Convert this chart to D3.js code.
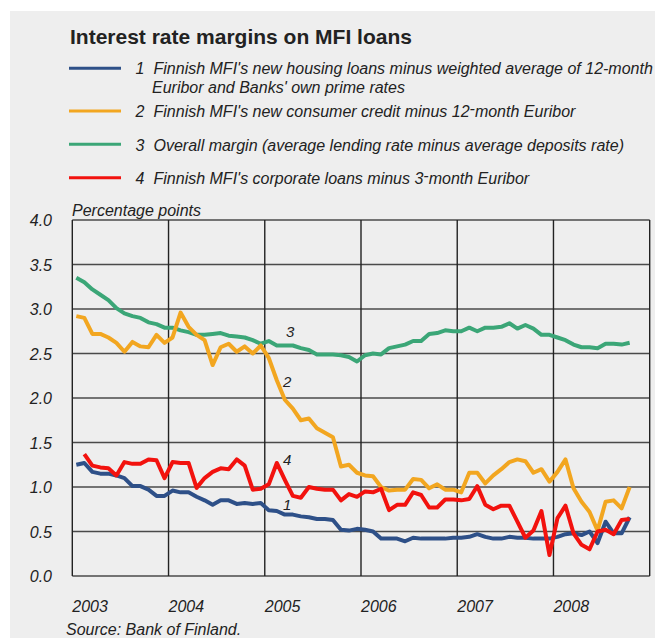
<!DOCTYPE html>
<html><head><meta charset="utf-8">
<script src="https://cdn.jsdelivr.net/npm/d3@7"></script>
<style>
html,body{margin:0;padding:0;background:#fff;}
svg{display:block;}
</style></head>
<body>
<script>
// ---- data ----
const title = "Interest rate margins on MFI loans";
const yLabel = "Percentage points";
const source = "Source: Bank of Finland.";
const startYear = 2003, startMonth = 0; // monthly observations from Jan 2003
const yearTicks = [2003, 2004, 2005, 2006, 2007, 2008];
const yTicks = [0, 0.5, 1, 1.5, 2, 2.5, 3, 3.5, 4];

// "^" marks a raised hyphen as printed in the original
const seriesNames = [
  ["1", "Finnish MFI's new housing loans minus weighted average of 12-month", "Euribor and Banks' own prime rates"],
  ["2", "Finnish MFI's new consumer credit minus 12^month Euribor"],
  ["3", "Overall margin (average lending rate minus average deposits rate)"],
  ["4", "Finnish MFI's corporate loans minus 3^month Euribor"]
];

const housing = [1.25,1.27,1.17,1.15,1.15,1.13,1.10,1.01,1.01,0.97,0.90,0.90,
  0.96,0.94,0.94,0.89,0.85,0.80,0.85,0.85,0.81,0.82,0.81,0.82,
  0.74,0.73,0.69,0.69,0.67,0.66,0.64,0.64,0.63,0.52,0.51,0.53,
  0.52,0.50,0.42,0.42,0.42,0.39,0.43,0.42,0.42,0.42,0.42,0.43,
  0.43,0.44,0.47,0.44,0.42,0.42,0.44,0.43,0.43,0.42,0.42,0.42,
  0.44,0.47,0.48,0.46,0.50,0.37,0.61,0.48,0.48,0.66];

const consumer = [2.92,2.90,2.72,2.72,2.68,2.62,2.52,2.63,2.58,2.57,2.71,2.62,
  2.68,2.96,2.80,2.71,2.65,2.37,2.57,2.61,2.52,2.58,2.50,2.59,
  2.45,2.20,1.98,1.88,1.75,1.77,1.66,1.61,1.56,1.23,1.25,1.16,
  1.13,1.12,1.00,0.96,0.97,0.97,1.09,1.08,0.985,1.03,0.97,0.97,
  0.94,1.16,1.16,1.04,1.13,1.20,1.28,1.31,1.29,1.16,1.20,1.06,
  1.17,1.31,0.985,0.835,0.72,0.51,0.835,0.85,0.76,1.00];

const overall = [3.35,3.30,3.22,3.16,3.10,3.01,2.95,2.92,2.90,2.85,2.83,2.79,
  2.79,2.76,2.74,2.71,2.71,2.72,2.73,2.70,2.69,2.68,2.65,2.61,
  2.64,2.59,2.59,2.59,2.56,2.54,2.49,2.49,2.49,2.48,2.46,2.41,
  2.48,2.50,2.49,2.56,2.58,2.60,2.64,2.64,2.72,2.73,2.76,2.75,
  2.75,2.79,2.75,2.79,2.79,2.80,2.84,2.78,2.82,2.78,2.71,2.71,
  2.68,2.65,2.60,2.57,2.57,2.56,2.61,2.61,2.60,2.62];

const corporate = [null,1.37,1.24,1.22,1.21,1.13,1.28,1.26,1.26,1.31,1.30,1.10,
  1.28,1.27,1.27,0.99,1.10,1.17,1.21,1.20,1.31,1.24,0.97,0.98,
  1.03,1.27,1.08,0.90,0.88,1.00,0.98,0.97,0.97,0.85,0.92,0.89,
  0.95,0.94,0.98,0.74,0.80,0.80,0.94,0.91,0.77,0.77,0.86,0.86,
  0.85,0.865,1.01,0.80,0.75,0.79,0.79,0.61,0.43,0.51,0.73,0.235,
  0.65,0.79,0.48,0.35,0.30,0.50,0.52,0.47,0.63,0.64];

const colors = ["#2e5088", "#f2a620", "#3ba677", "#f2120e"];
// line labels: [label, year position, value]
const lineLabels = [["1", 2005.19, 0.74], ["2", 2005.19, 2.12], ["3", 2005.22, 2.69], ["4", 2005.19, 1.25]];

// ---- drawing ----
const W = 655, H = 638;
const svg = d3.select("body").append("svg").attr("width", W).attr("height", H);
svg.append("rect").attr("x", 10).attr("y", 11).attr("width", W - 10).attr("height", H - 11).attr("fill", "#eeeeee");

const plot = {left: 72.3, right: 649.7, top: 220, bottom: 576};
const x = d3.scaleLinear().domain([2003, 2009]).range([plot.left, plot.right]);
const y = d3.scaleLinear().domain([0, 4]).range([plot.bottom, plot.top]);
const monthPos = i => startYear + (startMonth + i + 0.5) / 12;

const sans = "'Liberation Sans',Arial,sans-serif";
const ink = "#222";

svg.append("text").attr("x", 70).attr("y", 43.5).text(title)
  .attr("font-family", sans).attr("font-weight", "bold").attr("font-size", 21).attr("fill", ink);

function richText(sel, str) {
  const parts = str.split("^");
  parts.forEach((p, i) => {
    if (i > 0) sel.append("tspan").attr("dy", -3).text("-");
    sel.append("tspan").attr("dy", i > 0 ? 3 : 0).text(p);
  });
}

// legend
const legY = [68.3, 111, 144.3, 177.7];
const legBase = [74, 117.3, 151, 184];
seriesNames.forEach((s, k) => {
  svg.append("line").attr("x1", 69).attr("x2", 121).attr("y1", legY[k]).attr("y2", legY[k])
    .attr("stroke", colors[k]).attr("stroke-width", 3);
  svg.append("text").attr("x", 144.5).attr("y", legBase[k]).attr("text-anchor", "end").text(s[0])
    .attr("font-family", sans).attr("font-style", "italic").attr("font-size", 16).attr("fill", ink);
  const t = svg.append("text").attr("x", 153.5).attr("y", legBase[k])
    .attr("font-family", sans).attr("font-style", "italic").attr("font-size", 16).attr("fill", ink);
  richText(t, s[1]);
  if (s[2]) svg.append("text").attr("x", 152).attr("y", legBase[k] + 18.5).text(s[2])
    .attr("font-family", sans).attr("font-style", "italic").attr("font-size", 16).attr("fill", ink);
});

svg.append("text").attr("x", 72).attr("y", 216).text(yLabel)
  .attr("font-family", sans).attr("font-style", "italic").attr("font-size", 16).attr("fill", ink);

// grid
const g = svg.append("g");
g.selectAll("line.h").data(yTicks).join("line")
  .attr("x1", plot.left).attr("x2", plot.right).attr("y1", d => y(d)).attr("y2", d => y(d))
  .attr("stroke", "#4a4a4a").attr("stroke-width", 1.6);
g.selectAll("line.v").data(d3.range(2003, 2010)).join("line")
  .attr("y1", plot.top).attr("y2", plot.bottom).attr("x1", d => x(d)).attr("x2", d => x(d))
  .attr("stroke", "#222").attr("stroke-width", 1.4);

// axes labels
const yAxis = d3.axisLeft(y).tickValues(yTicks).tickSize(0).tickPadding(0).tickFormat(d3.format(".1f"));
const ya = svg.append("g").attr("transform", `translate(52,0)`).call(yAxis);
ya.select(".domain").remove();
ya.selectAll("text").attr("font-family", sans).attr("font-style", "italic").attr("font-size", 16).attr("fill", ink).attr("dy", "0.36em");

const xAxis = d3.axisBottom(x).tickValues(yearTicks).tickSize(0).tickPadding(0).tickFormat(d3.format("d"));
const xa = svg.append("g").attr("transform", `translate(0,600)`).call(xAxis);
xa.select(".domain").remove();
xa.selectAll("text").attr("text-anchor", "start").attr("dy", "0.72em").attr("dx", -0.5)
  .attr("font-family", sans).attr("font-style", "italic").attr("font-size", 16).attr("fill", ink);

// lines
const allSeries = [overall, consumer, housing, corporate];
const colorIdx = [2, 1, 0, 3];
const line = d3.line().defined(d => d != null).x((d, i) => x(monthPos(i))).y(d => y(d));
allSeries.forEach((s, k) => {
  svg.append("path").attr("d", line(s)).attr("fill", "none")
    .attr("stroke", colors[colorIdx[k]]).attr("stroke-width", 4).attr("stroke-linejoin", "round");
});

svg.selectAll("text.lab").data(lineLabels).join("text")
  .attr("x", d => x(d[1])).attr("y", d => y(d[2])).text(d => d[0])
  .attr("font-family", sans).attr("font-style", "italic").attr("font-size", 15).attr("fill", ink);

svg.append("text").attr("x", 66).attr("y", 635).text(source)
  .attr("font-family", sans).attr("font-style", "italic").attr("font-size", 16).attr("fill", ink);
</script>
</body></html>
